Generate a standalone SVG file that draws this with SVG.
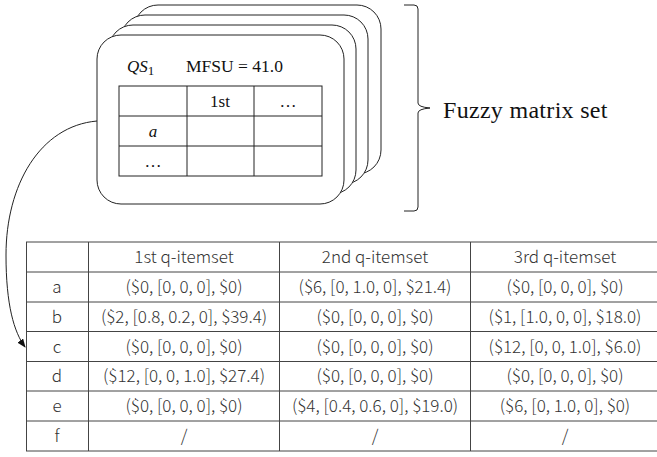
<svg xmlns="http://www.w3.org/2000/svg" width="657" height="457" viewBox="0 0 657 457">
<style>
.card{fill:#fff;stroke:#222;stroke-width:1}
.ln{stroke:#222;stroke-width:1;fill:none}
.tl{stroke:#444;stroke-width:1;fill:none}
.ser{font-family:"Liberation Serif","Times New Roman",serif;fill:#111}
.cell{font-family:"Noto Sans CJK SC","Noto Sans",sans-serif;font-size:17px;font-weight:300;fill:#333;text-anchor:middle}
</style>
<defs>
<marker id="ah" markerWidth="9" markerHeight="7" refX="8" refY="3.5" orient="auto" markerUnits="userSpaceOnUse">
<path d="M0,0 L9,3.5 L0,7 Z" fill="#111"/>
</marker>
</defs>
<rect width="657" height="457" fill="#fff"/>
<g id="card4"><rect class="card" x="134" y="5" width="247" height="169" rx="24" ry="24"/></g>
<g id="card3"><rect class="card" x="121" y="15" width="247" height="169" rx="24" ry="24"/></g>
<g id="card2"><rect class="card" x="109" y="25" width="247" height="169" rx="24" ry="24"/></g>
<g id="card1">
<rect class="card" x="97" y="35" width="247" height="169" rx="24" ry="24"/>
<text class="ser" x="127" y="72" font-size="17" font-style="italic">QS<tspan font-size="13" dy="3" font-style="normal">1</tspan></text>
<text class="ser" x="186" y="72" font-size="17.5">MFSU = 41.0</text>
<g class="ln">
<rect x="119" y="86" width="203" height="90"/>
<line x1="119" y1="116" x2="322" y2="116"/>
<line x1="119" y1="146" x2="322" y2="146"/>
<line x1="187" y1="86" x2="187" y2="176"/>
<line x1="254" y1="86" x2="254" y2="176"/>
</g>
<g class="ser" font-size="17" text-anchor="middle">
<text x="220" y="107">1st</text>
<text x="288" y="107">…</text>
<text x="153" y="137" font-style="italic">a</text>
<text x="153" y="167">…</text>
</g>
</g>
<g id="brace">
<path class="ln" d="M404,5 L414,5 Q418,5 418,9 L418,103 Q418,107 430,108 Q418,109 418,113 L418,207 Q418,211 414,211 L404,211"/>
<text class="ser" x="443" y="118" font-size="24" letter-spacing="0.3">Fuzzy matrix set</text>
</g>
<g id="table">
<g class="tl">
<line x1="26" y1="242" x2="657" y2="242"/>
<line x1="26" y1="272" x2="657" y2="272"/>
<line x1="26" y1="302" x2="657" y2="302"/>
<line x1="26" y1="331.5" x2="657" y2="331.5"/>
<line x1="26" y1="361.5" x2="657" y2="361.5"/>
<line x1="26" y1="391" x2="657" y2="391"/>
<line x1="26" y1="421" x2="657" y2="421"/>
<line x1="26" y1="451" x2="657" y2="451"/>
<line x1="26.5" y1="242" x2="26.5" y2="451"/>
<line x1="88.5" y1="242" x2="88.5" y2="451"/>
<line x1="279.5" y1="242" x2="279.5" y2="451"/>
<line x1="470.5" y1="242" x2="470.5" y2="451"/>
</g>
<g class="cell">
<text x="184" y="263">1st q-itemset</text>
<text x="375" y="263">2nd q-itemset</text>
<text x="565" y="263">3rd q-itemset</text>
<text x="57" y="293">a</text>
<text x="184" y="293">($0, [0, 0, 0], $0)</text>
<text x="375" y="293">($6, [0, 1.0, 0], $21.4)</text>
<text x="565" y="293">($0, [0, 0, 0], $0)</text>
<text x="57" y="323">b</text>
<text x="184" y="323">($2, [0.8, 0.2, 0], $39.4)</text>
<text x="375" y="323">($0, [0, 0, 0], $0)</text>
<text x="565" y="323">($1, [1.0, 0, 0], $18.0)</text>
<text x="57" y="352.5">c</text>
<text x="184" y="352.5">($0, [0, 0, 0], $0)</text>
<text x="375" y="352.5">($0, [0, 0, 0], $0)</text>
<text x="565" y="352.5">($12, [0, 0, 1.0], $6.0)</text>
<text x="57" y="382">d</text>
<text x="184" y="382">($12, [0, 0, 1.0], $27.4)</text>
<text x="375" y="382">($0, [0, 0, 0], $0)</text>
<text x="565" y="382">($0, [0, 0, 0], $0)</text>
<text x="57" y="412">e</text>
<text x="184" y="412">($0, [0, 0, 0], $0)</text>
<text x="375" y="412">($4, [0.4, 0.6, 0], $19.0)</text>
<text x="565" y="412">($6, [0, 1.0, 0], $0)</text>
<text x="57" y="442">f</text>
<text x="184" y="442">/</text>
<text x="375" y="442">/</text>
<text x="565" y="442">/</text>
</g>
</g>
<g id="connectors">
<path class="ln" d="M97,121 C40,126 6,185 6,255 C6,305 14,332 25,347" marker-end="url(#ah)"/>
</g>
</svg>
